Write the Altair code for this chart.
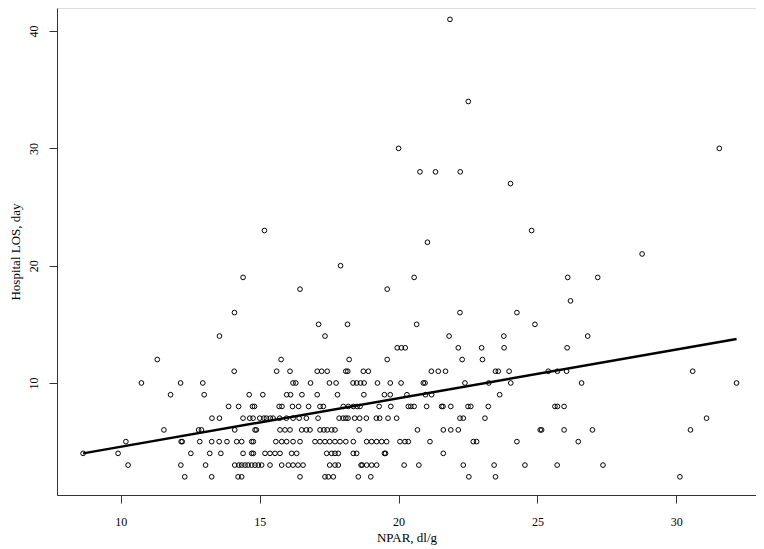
import altair as alt
import pandas as pd

# NPAR values (dl/g) grouped by hospital length of stay (days)
los_2 = [12.3, 13.27, 14.22, 14.35, 16.45, 17.35, 17.47, 17.65, 18.55, 19.0, 22.53, 23.49, 30.13]
los_3 = [10.26, 12.16, 13.05, 14.10, 14.25, 14.35, 14.47, 14.58, 14.71, 14.83, 14.95, 15.07, 15.37,
         15.79, 16.03, 16.20, 16.38, 16.56, 17.52, 17.71, 17.83, 18.65, 18.69, 18.85, 19.03, 19.21,
         20.20, 20.73, 22.33, 23.44, 24.55, 25.71, 27.36]
los_4 = [8.64, 9.90, 12.52, 13.2, 13.6, 14.40, 14.71, 14.77, 15.19, 15.37, 15.55, 15.73, 16.15, 16.33,
         17.41, 17.59, 17.71, 17.83, 18.37, 18.49, 19.49, 19.53, 21.61]
los_5 = [10.18, 12.17, 12.21, 12.84, 13.27, 13.54, 13.82, 14.17, 14.35, 14.71, 14.77, 15.58, 15.79,
         15.97, 16.20, 16.45, 16.99, 17.17, 17.35, 17.52, 17.71, 17.89, 18.10, 18.37, 18.85, 19.03,
         19.21, 19.39, 19.57, 20.05, 20.23, 20.35, 21.13, 22.69, 22.81, 24.26, 26.47]
los_6 = [11.55, 12.80, 12.90, 14.10, 14.83, 14.88, 15.73, 15.91, 16.09, 16.51, 16.68, 16.81, 17.17,
         17.31, 17.43, 17.59, 17.71, 18.58, 20.68, 21.61, 21.88, 22.15, 25.10, 25.15, 25.96, 26.98, 30.51]
los_7 = [13.28, 13.55, 14.40, 14.64, 14.76, 15.0, 15.15, 15.24, 15.38, 15.48, 15.72, 15.96, 16.20,
         16.42, 16.68, 17.10, 17.86, 18.0, 18.10, 18.18, 18.42, 18.60, 18.84, 19.20, 19.32, 19.62,
         19.93, 22.21, 22.33, 23.11, 31.09]
los_8 = [13.88, 14.24, 14.74, 14.81, 15.70, 15.80, 16.18, 16.40, 16.76, 17.17, 17.29, 18.01, 18.19,
         18.37, 18.51, 18.61, 19.30, 19.72, 20.35, 20.44, 20.56, 21.01, 21.55, 21.60, 21.88, 22.50,
         22.60, 23.23, 25.63, 25.72, 25.96]
los_9 = [11.79, 13.0, 14.62, 15.11, 15.97, 16.11, 16.52, 17.07, 17.80, 18.75, 19.49, 19.70, 20.30,
         20.97, 21.19, 23.64]
los_10 = [10.74, 12.15, 12.95, 16.20, 16.30, 16.83, 17.51, 17.75, 18.36, 18.49, 18.63, 18.76, 19.24,
          19.70, 20.09, 20.89, 20.95, 22.39, 23.25, 24.04, 26.59, 32.17]
los_11 = [14.08, 15.61, 16.09, 17.07, 17.23, 17.43, 18.10, 18.17, 18.73, 18.91, 21.18, 21.43, 21.69,
          23.49, 23.59, 23.98, 25.39, 25.72, 26.05, 30.59]
los_12 = [11.31, 15.77, 18.22, 19.59, 22.29, 23.02]
los_13 = [19.95, 20.10, 20.24, 22.15, 22.99, 23.80, 26.07]
los_14 = [13.55, 17.35, 21.82, 23.79, 26.81]
los_15 = [17.12, 18.16, 20.65, 24.91]
los_16 = [14.09, 22.21, 24.26]
los_17 = [26.19]
los_18 = [16.45, 19.59]
los_19 = [14.40, 20.56, 26.09, 27.17]
los_20 = [17.91]
los_21 = [28.77]
los_22 = [21.04]
los_23 = [15.17, 24.79]
los_27 = [24.03]
los_28 = [20.77, 21.33, 22.22]
los_30 = [20.0, 31.55]
los_34 = [22.51]
los_41 = [21.85]

groups = {2: los_2, 3: los_3, 4: los_4, 5: los_5, 6: los_6, 7: los_7, 8: los_8, 9: los_9,
          10: los_10, 11: los_11, 12: los_12, 13: los_13, 14: los_14, 15: los_15, 16: los_16,
          17: los_17, 18: los_18, 19: los_19, 20: los_20, 21: los_21, 22: los_22, 23: los_23,
          27: los_27, 28: los_28, 30: los_30, 34: los_34, 41: los_41}

# fitted line end points
fit_npar = [8.64, 32.17]
fit_los = [4.0, 13.75]

x_ticks = [10, 15, 20, 25, 30]
y_ticks = [10, 20, 30, 40]

rows = [{"npar": v, "los": k} for k, vals in groups.items() for v in vals]
df = pd.DataFrame(rows)
fit_df = pd.DataFrame({"npar": fit_npar, "los": fit_los})

FONT = "Liberation Serif"
xscale = alt.Scale(domain=[7.70, 32.87], nice=False, zero=False)
yscale = alt.Scale(domain=[0.45, 41.97], nice=False, zero=False)

xaxis = alt.Axis(values=x_ticks, title="NPAR, dl/g", grid=False, tickSize=8,
                 domainColor="#333333", tickColor="#333333", labelFont=FONT, titleFont=FONT,
                 labelFontSize=12, titleFontSize=13, titleFontWeight="normal",
                 labelColor="#000000", titleColor="#000000", labelPadding=13, titlePadding=4)
yaxis = alt.Axis(values=y_ticks, title="Hospital LOS, day", grid=False, tickSize=8,
                 domainColor="#333333", tickColor="#333333", labelFont=FONT, titleFont=FONT,
                 labelFontSize=12, titleFontSize=13, titleFontWeight="normal",
                 labelColor="#000000", titleColor="#000000", labelAngle=-90,
                 labelAlign="center", labelBaseline="bottom", labelPadding=9, titlePadding=5)

points = alt.Chart(df).mark_point(shape="circle", filled=False, color="black", size=22,
                                  strokeWidth=1, opacity=1).encode(
    x=alt.X("npar:Q", scale=xscale, axis=xaxis),
    y=alt.Y("los:Q", scale=yscale, axis=yaxis),
)

line = alt.Chart(fit_df).mark_line(color="black", strokeWidth=2.5).encode(
    x=alt.X("npar:Q", scale=xscale),
    y=alt.Y("los:Q", scale=yscale),
)

chart = alt.layer(points, line).properties(
    width=699, height=487,
    autosize=alt.AutoSizeParams(type="none"),
    padding={"left": 49, "top": 0, "right": 0, "bottom": 54},
).configure_view(stroke=None).configure(background="white")

chart.save("out.html", embed_options={"renderer": "svg", "actions": False})
